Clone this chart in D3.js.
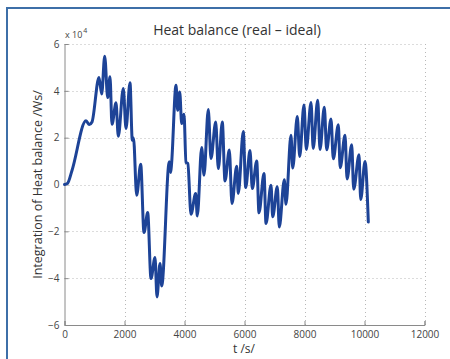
<!DOCTYPE html>
<html>
<head>
<meta charset="utf-8">
<script src="https://cdn.jsdelivr.net/npm/d3@7"></script>
<style>
  html, body { margin: 0; padding: 0; background: #fff; }
  svg { display: block; }
  text { font-family: "Open Sans", "Noto Sans", sans-serif; }
</style>
</head>
<body>
<svg id="chart" width="450" height="359"></svg>
<script>
// ---- data (values in units of 10^4 Ws) ----
const timeSeconds = [0, 100, 250, 717, 827, 917, 1150, 1240, 1340, 1440, 1517, 1583, 1717, 1793, 1960, 2050,
  2183, 2260, 2300, 2406, 2540, 2650, 2773, 2883, 3017, 3083, 3183, 3240, 3493, 3540, 3570,
  3717, 3773, 3840, 3907, 3983, 4050, 4110, 4217, 4373, 4427, 4573, 4650, 4793, 4883, 5040,
  5127, 5260, 5350, 5493, 5583, 5740, 5793, 5960, 6040, 6183, 6260, 6407, 6483, 6650, 6717,
  6883, 6940, 7093, 7160, 7327, 7383, 7550, 7607, 7760, 7840, 7983, 8060, 8217, 8290, 8440,
  8517, 8660, 8740, 8883, 8960, 9127, 9190, 9350, 9420, 9573, 9640, 9817, 9873, 10017, 10127];
const heatBalance = [0, 0.05, 0.6, 2.72, 2.56, 2.67, 4.57, 3.86, 5.48, 3.71, 4.6, 2.57, 3.49, 2.06, 4.1, 2.39,
  4.35, 1.89, 1.99, -0.46, 0.87, -2.05, -1.2, -4.01, -3.12, -4.8, -3.37, -4.33, 0.97, 0.51, 0.9,
  4.24, 3.17, 3.95, 2.6, 3.0, 0.95, 0.9, -1.27, -0.38, -1.34, 1.58, 0.4, 3.2, 1.11, 2.67,
  0.68, 2.67, 0.15, 1.47, -0.81, 0.78, -0.38, 2.26, -0.13, 1.45, -0.17, 1.0, -1.21, 0.47, -1.67,
  -0.03, -1.38, -0.1, -1.81, 0.2, -0.84, 2.1, 0.7, 2.9, 1.2, 3.4, 1.5, 3.5, 1.54, 3.6,
  1.5, 3.3, 1.48, 2.8, 1.1, 2.55, 0.72, 2.1, 0.24, 1.7, -0.2, 1.27, -0.64, 0.98, -1.6];
const xTicks = [0, 2000, 4000, 6000, 8000, 10000, 12000];
const yTicks = [-6, -4, -2, 0, 2, 4, 6];
const titleText = "Heat balance (real \u2013 ideal)";
const xLabel = "t /s/";
const yLabel = "Integration of Heat balance /Ws/";

// ---- layout ----
const svg = d3.select("#chart");
const x = d3.scaleLinear().domain([0, 12000]).range([64.5, 424.5]);
const y = d3.scaleLinear().domain([-6, 6]).range([325, 44]);
const fmt = v => (v < 0 ? "\u2212" + Math.abs(v) : String(v));

// outer frame (blue)
svg.append("line").attr("x1", 7).attr("x2", 450).attr("y1", 8).attr("y2", 8)
  .attr("stroke", "#3d6fa8").attr("stroke-width", 2);
svg.append("line").attr("x1", 7).attr("x2", 7).attr("y1", 7).attr("y2", 359)
  .attr("stroke", "#3d6fa8").attr("stroke-width", 2);

// grid
const grid = svg.append("g").attr("stroke", "#b8b8b8").attr("stroke-width", 1)
  .attr("stroke-dasharray", "1,3");
xTicks.filter(t => t > 0).forEach(t => {
  grid.append("line").attr("x1", Math.round(x(t)) + 0.5).attr("x2", Math.round(x(t)) + 0.5)
    .attr("y1", y(-6)).attr("y2", y(6));
});
yTicks.filter(t => t > -6).forEach(t => {
  grid.append("line").attr("y1", Math.round(y(t)) + 0.5).attr("y2", Math.round(y(t)) + 0.5)
    .attr("x1", x(0)).attr("x2", x(12000));
});

// axes (ticks inward)
const xAxis = d3.axisBottom(x).tickValues(xTicks).tickSize(-4).tickPadding(6).tickFormat(d => d);
const yAxis = d3.axisLeft(y).tickValues(yTicks).tickSize(-4).tickPadding(5).tickFormat(fmt);
const gx = svg.append("g").attr("transform", `translate(0,${y(-6)})`).call(xAxis);
const gy = svg.append("g").attr("transform", `translate(${x(0)},0)`).call(yAxis);
[gx, gy].forEach(g => {
  g.select(".domain").attr("stroke", "#8a8a8a");
  g.selectAll(".tick line").attr("stroke", "#8a8a8a");
  g.selectAll(".tick text").attr("fill", "#444").attr("font-size", 10)
    .attr("font-family", "'Open Sans', sans-serif");
});

// multiplier
const mult = svg.append("text").attr("x", 65).attr("y", 38).attr("font-size", 9).attr("fill", "#444");
mult.append("tspan").text("x 10");
mult.append("tspan").attr("dy", -5).attr("dx", 1).attr("font-size", 7).text("4");

// line
const line = d3.line().x((d, i) => x(timeSeconds[i])).y(d => y(d)).curve(d3.curveMonotoneX);
svg.append("path").datum(heatBalance).attr("d", line)
  .attr("fill", "none").attr("stroke", "#1d4397").attr("stroke-width", 3)
  .attr("stroke-linejoin", "round").attr("stroke-linecap", "round");

// title and labels
svg.append("text").attr("x", 237).attr("y", 35).attr("text-anchor", "middle")
  .attr("font-size", 14).attr("fill", "#333").text(titleText);
svg.append("text").attr("x", 244).attr("y", 353).attr("text-anchor", "middle")
  .attr("font-size", 12).attr("fill", "#333").text(xLabel);
svg.append("text").attr("transform", `translate(42,${y(0)}) rotate(-90)`)
  .attr("text-anchor", "middle").attr("font-size", 12.5).attr("fill", "#333").text(yLabel);
</script>
</body>
</html>
